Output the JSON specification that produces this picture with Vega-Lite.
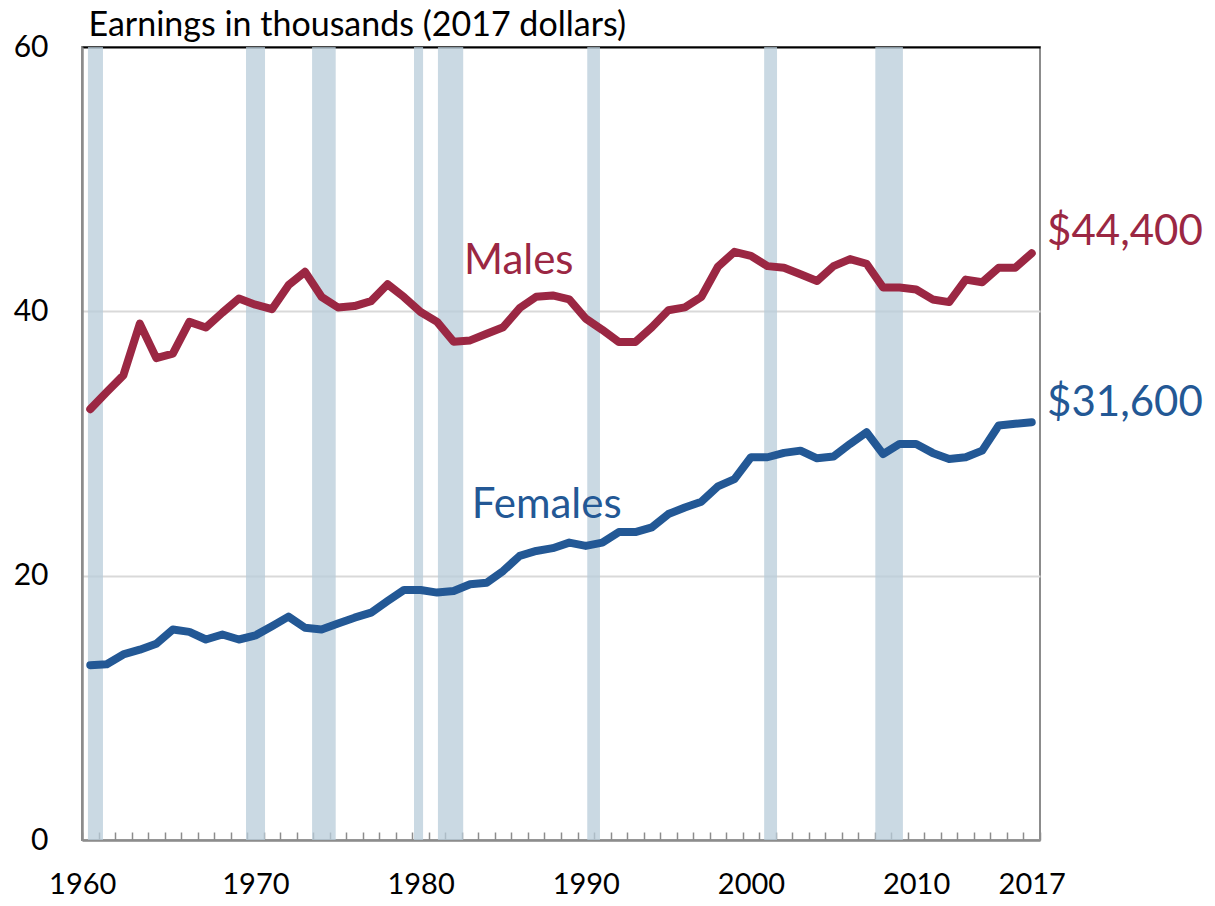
{
  "$schema": "https://vega.github.io/schema/vega-lite/v6.json",
  "width": 958,
  "height": 793,
  "autosize": "none",
  "padding": {"left": 82, "top": 47, "right": 175, "bottom": 66},
  "background": "white",
  "config": {
    "view": {"stroke": "#8c8c8c", "strokeWidth": 2},
    "font": "Lato"
  },
  "datasets": {
    "recessions": [
      {"start": 1959.86, "end": 1960.77},
      {"start": 1969.43, "end": 1970.58},
      {"start": 1973.43, "end": 1974.86},
      {"start": 1979.6, "end": 1980.15},
      {"start": 1981.05, "end": 1982.58},
      {"start": 1990.09, "end": 1990.86},
      {"start": 2000.8, "end": 2001.58},
      {"start": 2007.53, "end": 2009.2}
    ],
    "earnings": [
      {"year": 1960, "sex": "Males", "value": 32.6},
      {"year": 1961, "sex": "Males", "value": 33.9},
      {"year": 1962, "sex": "Males", "value": 35.15},
      {"year": 1963, "sex": "Males", "value": 39.07},
      {"year": 1964, "sex": "Males", "value": 36.46},
      {"year": 1965, "sex": "Males", "value": 36.8},
      {"year": 1966, "sex": "Males", "value": 39.2},
      {"year": 1967, "sex": "Males", "value": 38.77},
      {"year": 1968, "sex": "Males", "value": 39.9},
      {"year": 1969, "sex": "Males", "value": 40.97},
      {"year": 1970, "sex": "Males", "value": 40.5},
      {"year": 1971, "sex": "Males", "value": 40.16},
      {"year": 1972, "sex": "Males", "value": 41.98},
      {"year": 1973, "sex": "Males", "value": 42.99},
      {"year": 1974, "sex": "Males", "value": 41.1},
      {"year": 1975, "sex": "Males", "value": 40.29},
      {"year": 1976, "sex": "Males", "value": 40.4},
      {"year": 1977, "sex": "Males", "value": 40.77},
      {"year": 1978, "sex": "Males", "value": 42.05},
      {"year": 1979, "sex": "Males", "value": 41.07},
      {"year": 1980, "sex": "Males", "value": 39.95},
      {"year": 1981, "sex": "Males", "value": 39.2},
      {"year": 1982, "sex": "Males", "value": 37.7},
      {"year": 1983, "sex": "Males", "value": 37.8},
      {"year": 1984, "sex": "Males", "value": 38.3},
      {"year": 1985, "sex": "Males", "value": 38.8},
      {"year": 1986, "sex": "Males", "value": 40.25},
      {"year": 1987, "sex": "Males", "value": 41.1},
      {"year": 1988, "sex": "Males", "value": 41.2},
      {"year": 1989, "sex": "Males", "value": 40.9},
      {"year": 1990, "sex": "Males", "value": 39.45},
      {"year": 1991, "sex": "Males", "value": 38.6},
      {"year": 1992, "sex": "Males", "value": 37.68},
      {"year": 1993, "sex": "Males", "value": 37.68},
      {"year": 1994, "sex": "Males", "value": 38.8},
      {"year": 1995, "sex": "Males", "value": 40.08},
      {"year": 1996, "sex": "Males", "value": 40.3},
      {"year": 1997, "sex": "Males", "value": 41.1},
      {"year": 1998, "sex": "Males", "value": 43.37},
      {"year": 1999, "sex": "Males", "value": 44.5},
      {"year": 2000, "sex": "Males", "value": 44.2},
      {"year": 2001, "sex": "Males", "value": 43.42},
      {"year": 2002, "sex": "Males", "value": 43.3},
      {"year": 2003, "sex": "Males", "value": 42.8},
      {"year": 2004, "sex": "Males", "value": 42.3},
      {"year": 2005, "sex": "Males", "value": 43.42},
      {"year": 2006, "sex": "Males", "value": 43.95},
      {"year": 2007, "sex": "Males", "value": 43.6},
      {"year": 2008, "sex": "Males", "value": 41.8},
      {"year": 2009, "sex": "Males", "value": 41.8},
      {"year": 2010, "sex": "Males", "value": 41.65},
      {"year": 2011, "sex": "Males", "value": 40.9},
      {"year": 2012, "sex": "Males", "value": 40.7},
      {"year": 2013, "sex": "Males", "value": 42.4},
      {"year": 2014, "sex": "Males", "value": 42.2},
      {"year": 2015, "sex": "Males", "value": 43.3},
      {"year": 2016, "sex": "Males", "value": 43.3},
      {"year": 2017, "sex": "Males", "value": 44.4},
      {"year": 1960, "sex": "Females", "value": 13.23},
      {"year": 1961, "sex": "Females", "value": 13.3},
      {"year": 1962, "sex": "Females", "value": 14.04},
      {"year": 1963, "sex": "Females", "value": 14.4},
      {"year": 1964, "sex": "Females", "value": 14.85},
      {"year": 1965, "sex": "Females", "value": 15.93},
      {"year": 1966, "sex": "Females", "value": 15.75},
      {"year": 1967, "sex": "Females", "value": 15.17},
      {"year": 1968, "sex": "Females", "value": 15.55},
      {"year": 1969, "sex": "Females", "value": 15.17},
      {"year": 1970, "sex": "Females", "value": 15.48},
      {"year": 1971, "sex": "Females", "value": 16.18},
      {"year": 1972, "sex": "Females", "value": 16.9},
      {"year": 1973, "sex": "Females", "value": 16.06},
      {"year": 1974, "sex": "Females", "value": 15.93},
      {"year": 1975, "sex": "Females", "value": 16.39},
      {"year": 1976, "sex": "Females", "value": 16.82},
      {"year": 1977, "sex": "Females", "value": 17.2},
      {"year": 1978, "sex": "Females", "value": 18.08},
      {"year": 1979, "sex": "Females", "value": 18.92},
      {"year": 1980, "sex": "Females", "value": 18.92},
      {"year": 1981, "sex": "Females", "value": 18.72},
      {"year": 1982, "sex": "Females", "value": 18.84},
      {"year": 1983, "sex": "Females", "value": 19.35},
      {"year": 1984, "sex": "Females", "value": 19.47},
      {"year": 1985, "sex": "Females", "value": 20.36},
      {"year": 1986, "sex": "Females", "value": 21.5},
      {"year": 1987, "sex": "Females", "value": 21.87},
      {"year": 1988, "sex": "Females", "value": 22.08},
      {"year": 1989, "sex": "Females", "value": 22.5},
      {"year": 1990, "sex": "Females", "value": 22.25},
      {"year": 1991, "sex": "Females", "value": 22.5},
      {"year": 1992, "sex": "Females", "value": 23.3},
      {"year": 1993, "sex": "Females", "value": 23.3},
      {"year": 1994, "sex": "Females", "value": 23.65},
      {"year": 1995, "sex": "Females", "value": 24.66},
      {"year": 1996, "sex": "Females", "value": 25.16},
      {"year": 1997, "sex": "Females", "value": 25.6},
      {"year": 1998, "sex": "Females", "value": 26.76},
      {"year": 1999, "sex": "Females", "value": 27.3},
      {"year": 2000, "sex": "Females", "value": 28.96},
      {"year": 2001, "sex": "Females", "value": 28.96},
      {"year": 2002, "sex": "Females", "value": 29.29},
      {"year": 2003, "sex": "Females", "value": 29.46},
      {"year": 2004, "sex": "Females", "value": 28.88},
      {"year": 2005, "sex": "Females", "value": 29.02},
      {"year": 2006, "sex": "Females", "value": 29.97},
      {"year": 2007, "sex": "Females", "value": 30.85},
      {"year": 2008, "sex": "Females", "value": 29.2},
      {"year": 2009, "sex": "Females", "value": 29.97},
      {"year": 2010, "sex": "Females", "value": 29.97},
      {"year": 2011, "sex": "Females", "value": 29.29},
      {"year": 2012, "sex": "Females", "value": 28.83},
      {"year": 2013, "sex": "Females", "value": 28.96},
      {"year": 2014, "sex": "Females", "value": 29.46},
      {"year": 2015, "sex": "Females", "value": 31.36},
      {"year": 2016, "sex": "Females", "value": 31.49},
      {"year": 2017, "sex": "Females", "value": 31.6}
    ],
    "labels": [
      {"year": 1982.63, "value": 43.8, "sex": "Males", "text": "Males"},
      {"year": 1983.1, "value": 25.35, "sex": "Females", "text": "Females"},
      {"year": 2017.93, "value": 46.0, "sex": "Males", "text": "$44,400"},
      {"year": 2017.93, "value": 33.1, "sex": "Females", "text": "$31,600"}
    ]
  },
  "layer": [
    {
      "data": {"name": "recessions"},
      "mark": {"type": "rect", "color": "#b8ccda", "opacity": 0.75},
      "encoding": {
        "x": {
          "field": "start", "type": "quantitative",
          "scale": {"domain": [1959.5, 2017.5], "nice": false, "zero": false},
          "axis": {
            "orient": "bottom",
            "values": [1959.5, 1960.5, 1961.5, 1962.5, 1963.5, 1964.5, 1965.5, 1966.5, 1967.5, 1968.5, 1969.5, 1970.5, 1971.5, 1972.5, 1973.5, 1974.5, 1975.5, 1976.5, 1977.5, 1978.5, 1979.5, 1980.5, 1981.5, 1982.5, 1983.5, 1984.5, 1985.5, 1986.5, 1987.5, 1988.5, 1989.5, 1990.5, 1991.5, 1992.5, 1993.5, 1994.5, 1995.5, 1996.5, 1997.5, 1998.5, 1999.5, 2000.5, 2001.5, 2002.5, 2003.5, 2004.5, 2005.5, 2006.5, 2007.5, 2008.5, 2009.5, 2010.5, 2011.5, 2012.5, 2013.5, 2014.5, 2015.5, 2016.5, 2017.5],
            "labels": false,
            "title": null,
            "grid": false,
            "ticks": true,
            "tickSize": -8,
            "tickColor": "#8c8c8c",
            "tickWidth": 1.5,
            "domain": true,
            "domainColor": "#8c8c8c",
            "domainWidth": 2.5
          }
        },
        "x2": {"field": "end"}
      }
    },
    {
      "data": {"name": "earnings"},
      "mark": {"type": "line", "strokeWidth": 8, "strokeCap": "round", "strokeJoin": "round"},
      "encoding": {
        "x": {
          "field": "year", "type": "quantitative",
          "scale": {"domain": [1959.5, 2017.5], "nice": false, "zero": false},
          "axis": {
            "orient": "bottom",
            "values": [1960, 1970, 1980, 1990, 2000, 2010, 2017],
            "format": "d",
            "title": null,
            "grid": false,
            "ticks": false,
            "domain": false,
            "labelFontSize": 29,
            "labelColor": "#000000",
            "labelPadding": 30,
            "labelFont": "Lato",
            "labelOffset": {"condition": {"test": "datum.value == 1960", "value": -8}, "value": 0}
          }
        },
        "y": {
          "field": "value", "type": "quantitative",
          "scale": {"domain": [0, 60], "nice": false},
          "axis": {
            "values": [0, 20, 40, 60],
            "title": "Earnings in thousands (2017 dollars)",
            "titleAngle": 0,
            "titleAlign": "left",
            "titleBaseline": "alphabetic",
            "titleX": 6,
            "titleY": -12,
            "titleFontSize": 34,
            "titleFontWeight": "normal",
            "titleColor": "#000000",
            "titleFont": "Lato",
            "ticks": false,
            "labelFontSize": 30,
            "labelColor": "#000000",
            "labelPadding": 34,
            "labelFont": "Lato",
            "domainColor": "#8c8c8c",
            "domainWidth": 2.5,
            "grid": true,
            "gridColor": {"condition": {"test": "datum.value == 60", "value": "#000000"}, "value": "#d9d9d9"},
            "gridWidth": 2
          }
        },
        "color": {
          "field": "sex", "type": "nominal",
          "scale": {"domain": ["Males", "Females"], "range": ["#9b2743", "#235895"]},
          "legend": null
        },
        "detail": {"field": "sex"}
      }
    },
    {
      "data": {"name": "labels"},
      "mark": {"type": "text", "align": "left", "baseline": "middle", "fontSize": 42, "font": "Lato"},
      "encoding": {
        "x": {"field": "year", "type": "quantitative", "axis": null},
        "y": {"field": "value", "type": "quantitative", "axis": null},
        "text": {"field": "text"},
        "color": {
          "field": "sex", "type": "nominal",
          "scale": {"domain": ["Males", "Females"], "range": ["#9b2743", "#235895"]},
          "legend": null
        }
      }
    }
  ],
  "resolve": {"axis": {"x": "independent", "y": "independent"}}
}
